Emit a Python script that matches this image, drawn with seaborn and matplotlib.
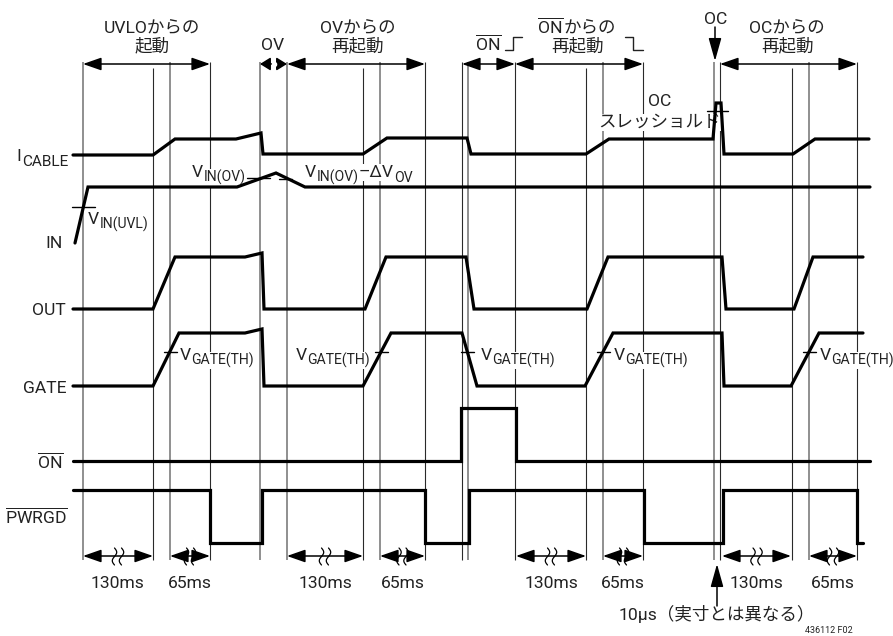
import numpy as np
import pandas as pd
import matplotlib
matplotlib.use("Agg")
import matplotlib.pyplot as plt
from matplotlib import font_manager
import seaborn as sns

sns.set_theme(style="white")
_names = {f.name for f in font_manager.fontManager.ttflist}
LATIN = 'Liberation Sans Narrow' if 'Liberation Sans Narrow' in _names else 'Roboto'
FAM = [LATIN, 'Noto Sans CJK JP', 'DejaVu Sans']
plt.rcParams['font.family'] = FAM
plt.rcParams['mathtext.fontset'] = 'custom'
plt.rcParams['mathtext.rm'] = LATIN
plt.rcParams['mathtext.it'] = LATIN
plt.rcParams['mathtext.sf'] = LATIN
plt.rcParams['mathtext.default'] = 'rm'

# ---------------- data (time axis in drawing units, level axis downward) ----------------
icable_t = [73, 153, 175, 236, 261, 263, 363, 387, 467, 471, 586, 609, 713, 716, 721, 724, 793, 815, 869]
icable_v = [155, 155, 139, 139, 133, 154, 154, 138, 138, 154, 154, 139, 139, 103, 103, 154, 154, 139, 139]
in_t = [75, 88, 237, 276, 305, 870]
in_v = [243, 187, 187, 173, 187, 187]
out_t = [73, 153, 175, 245, 262, 264, 365, 386, 466, 474, 587, 608, 722, 726, 794, 813, 863]
out_v = [309, 309, 257, 257, 253, 309, 309, 257, 257, 309, 309, 257, 257, 309, 309, 257, 257]
gate_t = [73, 153, 179, 245, 262, 264, 363, 391, 462, 477, 585, 613, 722, 724, 791, 819, 863]
gate_v = [386, 386, 333, 333, 329, 386, 386, 333, 333, 386, 386, 333, 333, 386, 386, 333, 333]
on_t = [73, 461, 461, 516, 516, 870]
on_v = [461, 461, 408, 408, 461, 461]
pwrgd_t = [73, 210, 210, 262, 262, 425, 425, 469, 469, 644, 644, 723, 723, 857, 857, 863]
pwrgd_v = [490, 490, 543, 543, 490, 490, 543, 543, 490, 490, 543, 543, 490, 490, 543, 543]

signal_labels = ["IN", "OUT", "GATE", r"$\overline{\mathrm{ON}}$", r"$\overline{\mathrm{PWRGD}}$"]
label_x = [63, 66, 66, 64, 68]
label_y = [248, 315, 393, 468, 523]

marker_gray = [83, 170, 260, 287, 380, 468, 603, 714, 809]
marker_black_top = [210, 425, 462, 515, 643, 720, 857]
marker_black_inner = [153, 363, 586, 792]

top_spans = [(83, 210), (287, 425), (462, 515), (515, 643), (720, 857)]
ov_span = (260, 287)
bottom_spans = [(83, 153), (170, 210), (287, 363), (380, 425),
                (516, 586), (603, 643), (722, 791), (809, 857)]
bottom_labels = ["130ms", "65ms", "130ms", "65ms", "130ms", "65ms", "130ms", "65ms"]

gate_th_x = [170, 381, 467, 603, 809]
gate_th_text_x = [180, 370, 481, 614, 820]
gate_th_ha = ['left', 'right', 'left', 'left', 'left']

FS = 12.6
SUB = 0.8
DROP = 4.5
TC = '#222'
wb = dict(facecolor='white', edgecolor='none', pad=0.6)

fig = plt.figure(figsize=(8.93, 6.36), dpi=100)
ax = fig.add_axes([0, 0, 1, 1])

# vertical marker lines
ax.vlines(marker_gray, 62, 560, color='#8f8f8f', lw=1.4, zorder=1)
ax.vlines(marker_black_top, 62, 560, color='#2a2a2a', lw=0.8, zorder=1)
ax.vlines(marker_black_inner, 68, 560, color='#2a2a2a', lw=0.8, zorder=1)

# signals
rows = []
for name, ts, vs in [("ICABLE", icable_t, icable_v), ("IN", in_t, in_v), ("OUT", out_t, out_v),
                     ("GATE", gate_t, gate_v), ("ON", on_t, on_v), ("PWRGD", pwrgd_t, pwrgd_v)]:
    for i, (t, v) in enumerate(zip(ts, vs)):
        rows.append((name, i, t, v))
df = pd.DataFrame(rows, columns=["signal", "order", "t", "level"])
for name in df.signal.unique():
    sub = df[df.signal == name]
    sns.lineplot(data=sub, x="t", y="level", sort=False, estimator=None, color='black',
                 lw=2.3, ax=ax, zorder=5, solid_joinstyle='miter', legend=False)
ax.set_xlim(0, 893)
ax.set_ylim(636, 0)
ax.axis('off')


def compose(x, y, parts, ha='left', bbox=None, sub_scale=SUB, drop=DROP):
    """parts: list of (text, is_sub). y = baseline of main text."""
    seq = parts if ha == 'left' else parts[::-1]
    prev = None
    for txt, is_sub in seq:
        fs = FS * sub_scale if is_sub else FS
        yy = y + (drop if is_sub else 0)
        kw = dict(ha=ha, va='baseline', fontsize=fs, color=TC, zorder=3)
        if bbox is not None:
            kw['bbox'] = bbox
        if prev is None:
            prev = ax.text(x, yy, txt, **kw)
        else:
            prev = ax.annotate(txt, xy=(1 if ha == 'left' else 0, yy), xycoords=(prev, 'data'),
                               xytext=(0.2 if ha == 'left' else -0.2, 0), textcoords='offset points', **kw)


# signal labels
compose(68, 161, [("I", False), ("CABLE", True)], ha='right', sub_scale=0.88)
for lab, x, y in zip(signal_labels, label_x, label_y):
    ax.text(x, y, lab, ha='right', va='baseline', fontsize=FS, color=TC)

# arrows
def harrow(x1, x2, y, hl=0.8):
    ax.annotate('', xy=(x2, y), xytext=(x1, y),
                arrowprops=dict(arrowstyle=f'<|-|>,head_length={hl},head_width=0.28',
                                color='black', lw=1.1, shrinkA=0, shrinkB=0,
                                mutation_scale=14), zorder=4)

for x1, x2 in top_spans:
    harrow(x1, x2, 64)
harrow(ov_span[0], ov_span[1], 64, hl=0.45)
ax.plot([(ov_span[0] + ov_span[1]) / 2], [64], marker='o', ms=3, color='white', zorder=6)

for (x1, x2), lab in zip(bottom_spans, bottom_labels):
    harrow(x1, x2, 556)
    cx = (x1 + x2) / 2
    yy = np.linspace(548, 565, 40)
    for dx in (-3.5, 3.5):
        ax.plot(cx + dx + 2.2 * np.sin(2 * np.pi * (yy - 548) / 17), yy, color='black', lw=0.9, zorder=6)
    ax.text(cx, 588, lab, ha='center', va='baseline', fontsize=FS, color=TC)

# top titles
ax.text(152, 33, "UVLOからの", ha='center', va='baseline', fontsize=FS, color=TC)
ax.text(152, 51, "起動", ha='center', va='baseline', fontsize=FS, color=TC)
ax.text(273, 50, "OV", ha='center', va='baseline', fontsize=FS, color=TC)
ax.text(358, 33, "OVからの", ha='center', va='baseline', fontsize=FS, color=TC)
ax.text(358, 51, "再起動", ha='center', va='baseline', fontsize=FS, color=TC)
ax.text(488, 50, r"$\overline{\mathrm{ON}}$", ha='center', va='baseline', fontsize=FS, color=TC)
ax.text(564, 33, r"$\overline{\mathrm{ON}}$", ha='right', va='baseline', fontsize=FS, color=TC)
ax.text(564, 33, "からの", ha='left', va='baseline', fontsize=FS, color=TC)
ax.text(578, 51, "再起動", ha='center', va='baseline', fontsize=FS, color=TC)
ax.text(787, 33, "OCからの", ha='center', va='baseline', fontsize=FS, color=TC)
ax.text(787, 51, "再起動", ha='center', va='baseline', fontsize=FS, color=TC)
ax.text(716, 24, "OC", ha='center', va='baseline', fontsize=FS, color=TC)
ax.annotate('', xy=(715, 61), xytext=(715, 27),
            arrowprops=dict(arrowstyle='-|>,head_length=1.0,head_width=0.28', color='black',
                            lw=1.1, shrinkA=0, shrinkB=0, mutation_scale=14))

# edge symbols
ax.plot([505, 513, 513, 522], [50, 50, 37, 37], color=TC, lw=1.0)
ax.plot([625, 633, 633, 643], [37, 37, 50, 50], color=TC, lw=1.0)

# OC threshold
ax.text(660, 106, "OC", ha='center', va='baseline', fontsize=FS, color=TC, bbox=wb, zorder=3)
ax.text(659, 127, "スレッショルド", ha='center', va='baseline', fontsize=FS, color=TC, bbox=wb, zorder=3)
ax.plot([707, 728], [111, 111], color='black', lw=1.0, zorder=6)

# VIN thresholds
ax.plot([72, 95], [207, 207], color='black', lw=1.0, zorder=6)
compose(88, 224, [("V", False), ("IN(UVL)", True)], bbox=wb)
ax.plot([247, 270], [178, 178], color='black', lw=1.0, zorder=6)
compose(192, 177, [("V", False), ("IN(OV)", True)], bbox=wb)
ax.plot([279, 292], [179, 179], color='black', lw=1.0, zorder=6)
compose(305, 177, [("V", False), ("IN(OV)", True), ("–ΔV", False), ("OV", True)], bbox=wb)

# gate thresholds
for gx, tx, ha in zip(gate_th_x, gate_th_text_x, gate_th_ha):
    ax.plot([gx - 6.5, gx + 6.5], [352, 352], color='black', lw=1.0, zorder=6)
    compose(tx, 360, [("V", False), ("GATE(TH)", True)], ha=ha, bbox=wb)

# 10us note
ax.annotate('', xy=(717, 564), xytext=(717, 606),
            arrowprops=dict(arrowstyle='-|>,head_length=1.0,head_width=0.28', color='black',
                            lw=1.1, shrinkA=0, shrinkB=0, mutation_scale=14))
ax.text(717, 620, "10μs（実寸とは異なる）", ha='center', va='baseline', fontsize=FS, color=TC)
ax.text(853, 633, "436112 F02", ha='right', va='baseline', fontsize=6.5, color=TC)

fig.savefig("out.png", dpi=100)
